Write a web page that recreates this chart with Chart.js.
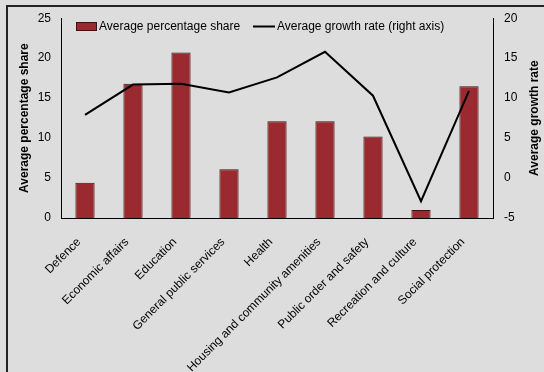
<!DOCTYPE html>
<html>
<head>
<meta charset="utf-8">
<script src="https://cdn.jsdelivr.net/npm/chart.js@4"></script>
<style>
  html, body { margin: 0; padding: 0; background: #e4e4e4; }
  #wrap { position: relative; width: 544px; height: 372px; background: #dddddd; }
  #frame { position: absolute; left: 6px; top: 5px; right: 0; bottom: 0;
           border-left: 2px solid #222; border-top: 2px solid #222; pointer-events: none; }
  canvas { position: absolute; left: 0; top: 0; }
</style>
</head>
<body>
<div id="wrap">
  <canvas id="myChart" width="544" height="372"></canvas>
  <div id="frame"></div>
</div>
<script>
// categories and values
var categories = ['Defence', 'Economic affairs', 'Education', 'General public services', 'Health',
    'Housing and community amenities', 'Public order and safety', 'Recreation and culture', 'Social protection'];
var shareValues = [4.4, 16.8, 20.7, 6.1, 12.1, 12.1, 10.2, 1.0, 16.5];
var growthValues = [7.9, 11.7, 11.8, 10.7, 12.6, 15.8, 10.3, -2.9, 10.9];
var leftTicks = [0, 5, 10, 15, 20, 25];
var rightTicks = [-5, 0, 5, 10, 15, 20];

var fontFamily = '"Liberation Sans", Arial, sans-serif';
Chart.defaults.font.family = fontFamily;
Chart.defaults.font.size = 12;
Chart.defaults.color = '#000';

// legend sits inside the plot, and the right title reads bottom-to-top like the left one
var overlayPlugin = {
    id: 'overlay',
    afterDraw: function (chart) {
        var c = chart.ctx;
        var area = chart.chartArea;
        var bars = chart.data.datasets[1];
        var line = chart.data.datasets[0];
        c.save();
        c.font = '12px ' + fontFamily;
        c.textBaseline = 'middle';
        c.fillStyle = '#000';
        // bar item
        c.fillStyle = bars.backgroundColor;
        c.fillRect(76, 22, 21, 9);
        c.strokeStyle = bars.borderColor;
        c.lineWidth = 1;
        c.strokeRect(76.5, 22.5, 20, 8);
        c.fillStyle = '#000';
        c.fillText(bars.label, 99, 26.5);
        // line item
        c.strokeStyle = line.borderColor;
        c.lineWidth = 2;
        c.beginPath();
        c.moveTo(253, 26.5);
        c.lineTo(275, 26.5);
        c.stroke();
        c.fillText(line.label, 277, 26.5);
        // right axis title
        c.font = 'bold 12px ' + fontFamily;
        c.textAlign = 'center';
        c.translate(535, (area.top + area.bottom) / 2);
        c.rotate(-Math.PI / 2);
        c.fillText('Average growth rate', 0, 0);
        c.restore();
    }
};

var ctx = document.getElementById('myChart').getContext('2d');
var myChart = new Chart(ctx, {
    type: 'bar',
    data: {
        labels: categories,
        datasets: [{
            type: 'line',
            label: 'Average growth rate (right axis)',
            data: growthValues,
            yAxisID: 'y1',
            borderColor: '#000',
            backgroundColor: '#000',
            borderWidth: 2,
            pointRadius: 0,
            tension: 0,
            order: 0
        }, {
            label: 'Average percentage share',
            data: shareValues,
            yAxisID: 'y',
            backgroundColor: '#9a2a2f',
            borderColor: '#3d1214',
            borderWidth: 1,
            categoryPercentage: 0.8,
            barPercentage: 0.5,
            order: 1
        }]
    },
    options: {
        responsive: false,
        animation: false,
        layout: { padding: { top: 18, left: 0, right: 0, bottom: 0 } },
        plugins: {
            legend: { display: false },
            tooltip: { enabled: false }
        },
        scales: {
            x: {
                offset: true,
                grid: { display: false, drawTicks: false },
                border: { display: true, color: '#000', width: 1 },
                ticks: { minRotation: 45, maxRotation: 45, padding: 17, labelOffset: -6, autoSkip: false, font: { size: 12 } },
                afterFit: function (scale) { scale.height = 154; }
            },
            y: {
                position: 'left',
                min: 0, max: 25,
                grid: { display: false, drawTicks: false },
                border: { display: true, color: '#000', width: 1 },
                afterBuildTicks: function (scale) { scale.ticks = leftTicks.map(function (v) { return { value: v }; }); },
                ticks: { padding: 10 },
                title: { display: true, text: 'Average percentage share', font: { size: 12, weight: 'bold' }, padding: { top: 17, bottom: 0 } },
                afterFit: function (scale) { scale.width = 61; }
            },
            y1: {
                position: 'right',
                min: -5, max: 20,
                grid: { display: false, drawTicks: false },
                border: { display: true, color: '#000', width: 1 },
                afterBuildTicks: function (scale) { scale.ticks = rightTicks.map(function (v) { return { value: v }; }); },
                ticks: { padding: 11 },
                afterFit: function (scale) { scale.width = 51; }
            }
        }
    },
    plugins: [overlayPlugin]
});
</script>
</body>
</html>
